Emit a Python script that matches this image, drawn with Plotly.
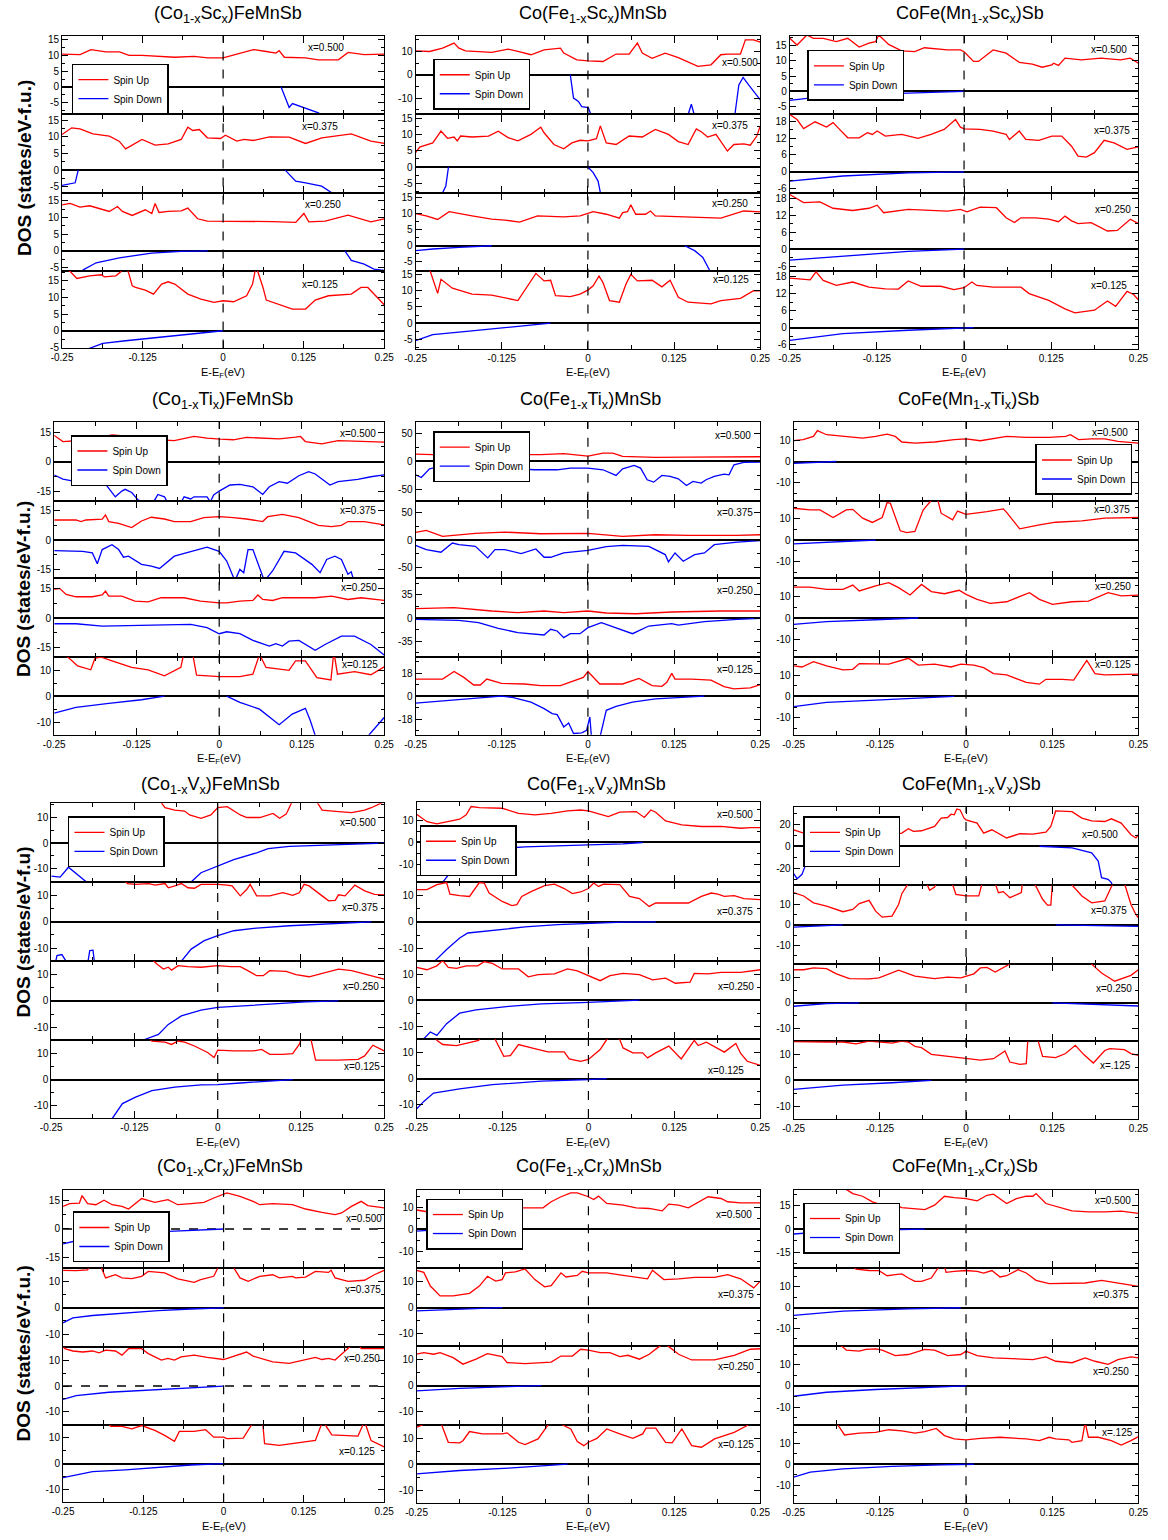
import plotly.graph_objects as go

# ---------------- data: (energy E-EF [eV], DOS [states/eV-f.u.]) ----------------
energy_ticks = [-0.25, -0.125, 0.0, 0.125, 0.25]
energy_tick_text = ["-0.25", "-0.125", "0", "0.125", "0.25"]
energy_minor = [-0.1875, -0.0625, 0.0625, 0.1875]
conc_labels = ["x=0.500", "x=0.375", "x=0.250", "x=0.125"]
conc_labels_short = ["x=0.500", "x=0.375", "x=0.250", "x=.125"]

# (Co1-xScx)FeMnSb
co_sc_500_up = [(-0.25,10.3),(-0.222,10.1),(-0.205,11.7),(-0.182,11.0),(-0.161,11.0),(-0.146,9.9),(-0.126,9.9),(-0.1,9.6),(-0.075,9.3),(-0.045,9.6),(-0.024,9.1),(0.0,9.1),(0.026,10.6),(0.047,11.7),(0.067,11.1),(0.082,10.6),(0.087,11.4),(0.095,9.3),(0.128,9.1),(0.148,8.5),(0.179,8.5),(0.194,10.8),(0.219,10.1),(0.25,10.3)]
co_sc_500_dn = [(0.09,0.0),(0.1025,-6.4),(0.1076,-5.2),(0.128,-6.6),(0.148,-8.1),(0.16,-10.0)]
co_sc_375_up = [(-0.25,10.7),(-0.235,12.7),(-0.2223,12.4),(-0.202,10.9),(-0.1766,10.2),(-0.1614,8.7),(-0.1513,6.4),(-0.1259,9.2),(-0.1056,7.5),(-0.0853,7.9),(-0.065,9.2),(-0.0548,12.9),(-0.0472,11.9),(-0.0371,12.2),(-0.0244,9.7),(-0.0041,9.5),(0.0036,10.5),(0.0213,8.7),(0.0325,9.2),(0.0467,8.9),(0.0721,10.0),(0.1025,9.9),(0.1279,8.0),(0.1533,9.7),(0.199,10.9),(0.2294,8.7),(0.25,8.0)]
co_sc_375_dn = [(-0.25,-4.6),(-0.2297,-3.8),(-0.2249,0.0),None,(0.0964,0.0),(0.1127,-3.3),(0.128,-3.8),(0.153,-4.8),(0.1685,-6.8),(0.175,-8.0)]
co_sc_250_up = [(-0.25,13.75),(-0.2376,14.2),(-0.2223,13.1),(-0.2071,13.5),(-0.1766,11.8),(-0.164,13.3),(-0.1563,11.8),(-0.1411,10.6),(-0.1208,12.3),(-0.1107,11.2),(-0.1056,14.2),(-0.0995,11.5),(-0.0853,11.8),(-0.065,12.0),(-0.0548,12.8),(-0.0396,9.6),(-0.0244,8.9),(0.001,8.9),(0.0365,8.75),(0.0772,8.75),(0.1127,8.5),(0.1254,11.2),(0.133,8.7),(0.1584,8.9),(0.1939,10.7),(0.2294,8.7),(0.25,9.6)]
co_sc_250_dn = [(-0.218,-5.8),(-0.197,-3.6),(-0.161,-2.1),(-0.111,-0.7),(-0.065,-0.2),(-0.024,0.0),None,(0.189,0.0),(0.199,-2.9),(0.219,-4.0),(0.234,-5.5),(0.25,-5.9)]
co_sc_125_up = [(-0.25,19.0),(-0.2373,17.8),(-0.227,15.7),(-0.2071,16.5),(-0.1893,16.8),(-0.1843,16.2),(-0.1665,16.5),(-0.1589,17.7),(-0.1538,20.0),(-0.1472,17.7),(-0.1411,13.5),(-0.136,13.0),(-0.1208,12.2),(-0.1081,11.0),(-0.0954,14.0),(-0.0853,14.7),(-0.0751,14.0),(-0.0548,11.0),(-0.0345,9.5),(-0.0142,8.5),(0.0,9.0),(0.0162,8.7),(0.0365,10.5),(0.0457,14.0),(0.0492,17.5),(0.05,20.0),(0.0543,17.5),(0.0619,13.0),(0.067,9.2),(0.0772,8.5),(0.1076,6.5),(0.128,6.5),(0.143,9.2),(0.1635,10.5),(0.199,11.0),(0.214,13.0),(0.2246,13.0),(0.25,7.8)]
co_sc_125_dn = [(-0.2147,-5.8),(-0.1868,-3.8),(-0.1513,-3.0),(-0.1157,-2.3),(-0.0751,-1.5),(-0.0345,-0.7),(-0.0142,-0.2),(0.0,0.0)]

# Co(Fe1-xScx)MnSb
fe_sc_500_up = [(-0.25,10.3),(-0.2298,10.0),(-0.2108,11.4),(-0.1942,13.6),(-0.1871,11.4),(-0.1776,10.3),(-0.1396,9.6),(-0.1159,11.0),(-0.1016,10.0),(-0.0826,8.6),(-0.0636,10.7),(-0.0399,11.4),(-0.0351,9.3),(-0.0161,6.4),(0.0,6.0),(0.0218,5.7),(0.0408,8.9),(0.0598,8.9),(0.0717,13.6),(0.0788,9.3),(0.0931,7.1),(0.1121,9.3),(0.1311,7.4),(0.1595,3.6),(0.1785,4.3),(0.1928,8.6),(0.2023,8.9),(0.2213,8.9),(0.2284,15.0),(0.2403,15.0),(0.25,14.0)]
fe_sc_500_dn = [(-0.0256,0.0),(-0.0209,-10.0),(-0.0138,-11.4),(-0.009,-13.6),(0.0005,-14.0),(0.0057,-17.5),(0.008,-20.0),None,(0.143,-20.0),(0.1453,-17.0),(0.15,-12.6),(0.1548,-17.0),(0.157,-20.0),None,(0.211,-20.0),(0.2132,-17.0),(0.2189,-4.3),(0.2251,-1.1),(0.2331,-4.3),(0.2403,-7.1),(0.25,-10.7)]
fe_sc_375_up = [(-0.25,4.4),(-0.2441,6.1),(-0.2251,7.4),(-0.2132,11.0),(-0.2037,8.8),(-0.1942,9.2),(-0.1895,8.0),(-0.1847,9.5),(-0.1681,9.2),(-0.1443,9.5),(-0.1301,11.0),(-0.1159,9.0),(-0.1016,8.0),(-0.0826,10.0),(-0.0731,11.5),(-0.0684,12.2),(-0.0636,10.5),(-0.0494,6.9),(-0.0351,5.6),(-0.0233,7.4),(-0.0114,8.2),(0.0,8.0),(0.0123,8.7),(0.018,12.6),(0.0266,7.4),(0.0408,6.9),(0.0598,9.5),(0.0788,9.2),(0.0978,11.5),(0.1168,10.0),(0.1311,7.8),(0.1453,6.9),(0.1572,11.7),(0.1643,10.8),(0.1738,9.2),(0.1857,10.0),(0.2023,4.9),(0.2118,6.9),(0.226,7.1),(0.2355,6.7),(0.245,9.5),(0.25,12.6)]
fe_sc_375_dn = [(-0.2108,-7.9),(-0.2061,-5.8),(-0.2023,0.0),None,(0.0,0.0),(0.0076,-1.7),(0.0147,-4.3),(0.018,-7.9),(0.02,-10.0)]
fe_sc_250_up = [(-0.25,9.9),(-0.2346,9.2),(-0.218,8.1),(-0.2013,10.5),(-0.1681,9.2),(-0.1396,8.2),(-0.1206,7.9),(-0.0992,7.3),(-0.0731,9.2),(-0.0351,8.9),(-0.0114,9.2),(0.0076,10.5),(0.0266,9.7),(0.0456,8.5),(0.0503,10.2),(0.0575,10.5),(0.0622,12.6),(0.0693,9.7),(0.0836,9.7),(0.0907,10.7),(0.0978,9.2),(0.1453,8.9),(0.1785,8.7),(0.1928,8.5),(0.226,10.7),(0.25,10.4)]
fe_sc_250_dn = [(-0.25,-1.5),(-0.2251,-1.0),(-0.1871,-0.5),(-0.1396,0.0),None,(0.1405,0.0),(0.1548,-1.5),(0.1667,-3.6),(0.1762,-7.7),(0.18,-9.0)]
fe_sc_125_up = [(-0.25,20.0),(-0.2298,16.5),(-0.218,9.1),(-0.2132,13.4),(-0.1966,10.7),(-0.1681,8.9),(-0.1396,8.6),(-0.1016,6.9),(-0.0755,15.2),(-0.0636,12.9),(-0.0541,13.1),(-0.047,8.4),(-0.0256,8.1),(-0.0114,8.9),(0.0,10.1),(0.0076,11.4),(0.0161,14.4),(0.0218,12.4),(0.0313,6.9),(0.0456,6.4),(0.0551,11.9),(0.0622,14.9),(0.0717,12.9),(0.0931,13.1),(0.1073,11.1),(0.1192,13.1),(0.1311,7.9),(0.1453,6.4),(0.1785,5.9),(0.1928,6.9),(0.2213,7.6),(0.2403,9.9),(0.25,9.9)]
fe_sc_125_dn = [(-0.25,-5.3),(-0.2251,-3.5),(-0.1871,-2.7),(-0.1396,-1.7),(-0.0921,-0.7),(-0.0541,0.0)]

# CoFe(Mn1-xScx)Sb
mn_sc_500_up = [(-0.25,17.4),(-0.2395,15.2),(-0.2254,18.5),(-0.216,17.4),(-0.202,17.4),(-0.1832,16.3),(-0.1668,17.4),(-0.1504,14.5),(-0.1364,15.8),(-0.127,16.3),(-0.1223,18.5),(-0.1082,15.4),(-0.0895,13.3),(-0.0708,13.0),(-0.0567,14.3),(-0.0426,14.1),(-0.0239,13.6),(-0.0052,13.6),(0.0,13.0),(0.0136,9.8),(0.0206,9.8),(0.0417,13.6),(0.0604,12.5),(0.0792,9.5),(0.0979,8.9),(0.112,7.9),(0.1261,8.7),(0.1284,9.2),(0.1354,8.5),(0.1448,10.9),(0.1682,10.3),(0.1964,10.9),(0.2245,10.3),(0.2385,10.9),(0.25,9.2)]
mn_sc_500_dn = [(-0.25,-3.0),(-0.1972,-1.6),(-0.127,-0.9),(-0.0567,-0.3),(0.0,0.0)]
mn_sc_375_up = [(-0.25,20.4),(-0.2395,18.6),(-0.2301,15.4),(-0.2137,17.8),(-0.1973,15.9),(-0.1879,17.5),(-0.1785,15.1),(-0.1668,12.1),(-0.1504,12.1),(-0.1387,13.9),(-0.1317,13.3),(-0.1246,14.5),(-0.1129,12.7),(-0.0895,13.3),(-0.0661,11.9),(-0.0473,13.3),(-0.0286,15.1),(-0.0122,18.6),(-0.0052,15.9),(0.0,15.3),(0.023,15.1),(0.0417,14.5),(0.0604,13.3),(0.0651,11.5),(0.0792,14.5),(0.0886,11.5),(0.1073,11.2),(0.1261,12.7),(0.1401,12.7),(0.1542,9.1),(0.1635,5.6),(0.1753,5.2),(0.187,6.8),(0.201,11.2),(0.2151,10.3),(0.2338,8.0),(0.25,8.9)]
mn_sc_375_dn = [(-0.25,-3.3),(-0.1738,-1.5),(-0.0801,-0.4),(0.0,0.0)]
mn_sc_250_up = [(-0.25,19.5),(-0.2301,16.6),(-0.2067,16.9),(-0.1879,14.6),(-0.1598,13.8),(-0.1364,14.6),(-0.1246,15.7),(-0.1153,13.0),(-0.0801,14.2),(-0.0473,13.8),(-0.0239,13.6),(-0.0052,14.2),(0.0042,13.3),(0.023,15.0),(0.0464,14.8),(0.0604,11.2),(0.0722,9.5),(0.0815,11.2),(0.1026,11.2),(0.1214,10.7),(0.1354,9.8),(0.1448,11.8),(0.1542,10.1),(0.1635,9.1),(0.1823,9.5),(0.2057,6.5),(0.2198,6.7),(0.2385,10.7),(0.25,9.1)]
mn_sc_250_dn = [(-0.25,-3.9),(-0.1738,-2.4),(-0.0801,-0.8),(0.0,0.0)]
mn_sc_125_up = [(-0.25,17.6),(-0.2395,17.4),(-0.2207,17.0),(-0.2123,19.8),(-0.202,16.8),(-0.1832,15.0),(-0.1598,16.2),(-0.1364,14.4),(-0.1129,13.8),(-0.0942,13.7),(-0.0801,16.6),(-0.0614,14.7),(-0.0333,14.7),(-0.0145,13.5),(0.0,14.2),(0.0112,16.2),(0.0183,15.0),(0.0417,14.4),(0.0815,14.4),(0.0933,12.1),(0.1214,9.7),(0.1448,6.7),(0.1589,5.3),(0.187,6.2),(0.2057,9.5),(0.2174,7.6),(0.2338,12.9),(0.2432,11.8),(0.25,9.9)]
mn_sc_125_dn = [(-0.25,-4.5),(-0.1738,-2.1),(-0.0801,-0.9),(0.0,-0.2),(0.0136,0.0)]

# (Co1-xTix)FeMnSb
co_ti_500_up = [(-0.25,13.3),(-0.2368,10.2),(-0.217,10.6),(-0.1872,11.6),(-0.1624,13.6),(-0.1425,13.1),(-0.1177,12.3),(-0.0929,11.1),(-0.068,10.7),(-0.0382,12.8),(-0.0184,11.9),(0.0015,11.4),(0.0214,11.1),(0.0412,12.3),(0.071,11.9),(0.0909,11.6),(0.1157,12.4),(0.1231,12.8),(0.1306,10.2),(0.1554,9.0),(0.1802,10.7),(0.21,10.2),(0.25,9.9)]
co_ti_500_dn = [(-0.25,-6.8),(-0.2368,-8.9),(-0.217,-10.2),(-0.2021,-9.7),(-0.1723,-11.4),(-0.1574,-17.9),(-0.1475,-15.0),(-0.1425,-14.1),(-0.1326,-15.7),(-0.1226,-19.6),(-0.1077,-21.0),(-0.0978,-19.6),(-0.0929,-16.7),(-0.0829,-17.9),(-0.078,-21.0),(-0.0581,-21.0),(-0.0532,-17.9),(-0.0432,-19.0),(-0.0382,-17.9),(-0.0184,-17.9),(-0.0134,-20.5),(-0.0084,-17.0),(0.0,-15.0),(0.0164,-11.9),(0.0313,-11.6),(0.0511,-12.8),(0.066,-16.7),(0.076,-12.8),(0.0909,-10.2),(0.1033,-11.0),(0.1207,-7.2),(0.1356,-5.1),(0.1455,-6.3),(0.1678,-11.9),(0.1802,-10.2),(0.21,-9.0),(0.2299,-7.7),(0.25,-6.8)]
co_ti_375_up = [(-0.25,10.3),(-0.217,10.3),(-0.2095,9.5),(-0.2021,10.3),(-0.1773,10.7),(-0.1723,12.9),(-0.1673,9.5),(-0.1524,8.6),(-0.1326,6.4),(-0.1177,9.8),(-0.1028,11.7),(-0.0829,10.8),(-0.068,9.5),(-0.0432,9.5),(-0.0233,11.5),(0.0,12.0),(0.0214,11.5),(0.0412,10.8),(0.066,9.5),(0.0735,12.0),(0.0958,13.2),(0.1207,11.5),(0.1504,7.5),(0.1703,6.9),(0.1852,7.5),(0.1951,9.5),(0.22,9.5),(0.25,7.8)]
co_ti_375_dn = [(-0.25,-5.4),(-0.207,-5.8),(-0.1922,-6.6),(-0.1847,-12.2),(-0.1773,-4.9),(-0.1624,-2.4),(-0.1524,-4.9),(-0.145,-8.8),(-0.1375,-8.3),(-0.1177,-12.5),(-0.1028,-13.4),(-0.0904,-14.6),(-0.068,-8.3),(-0.0432,-5.8),(-0.0184,-3.7),(0.0,-5.8),(0.0114,-10.8),(0.0238,-21.0),(0.0313,-15.1),(0.0372,-16.8),(0.0437,-4.9),(0.0511,-4.9),(0.0611,-13.4),(0.0685,-21.0),(0.0809,-15.9),(0.0983,-5.8),(0.1157,-6.6),(0.1405,-12.5),(0.1529,-16.8),(0.1629,-10.0),(0.1753,-8.3),(0.1852,-10.0),(0.1951,-17.6),(0.2001,-16.3),(0.2041,-21.0)]
co_ti_250_up = [(-0.25,14.7),(-0.2418,15.2),(-0.2319,12.1),(-0.217,10.9),(-0.1922,10.9),(-0.1773,11.8),(-0.1723,13.8),(-0.1673,11.2),(-0.1475,11.2),(-0.1276,8.7),(-0.1077,8.3),(-0.0879,10.4),(-0.0531,10.4),(-0.0283,8.7),(0.0,7.8),(0.0114,7.8),(0.0313,8.7),(0.0511,9.0),(0.0586,11.8),(0.066,9.5),(0.0809,9.0),(0.0958,10.4),(0.1157,10.4),(0.1455,10.4),(0.1703,11.2),(0.1951,9.5),(0.215,10.4),(0.25,9.0)]
co_ti_250_dn = [(-0.25,-2.9),(-0.217,-2.9),(-0.1773,-4.1),(-0.1177,-3.6),(-0.0432,-3.2),(-0.0184,-4.9),(0.0,-8.0),(0.0114,-7.0),(0.0313,-8.0),(0.0511,-11.4),(0.076,-14.3),(0.0859,-13.1),(0.0958,-14.3),(0.1058,-11.8),(0.1207,-11.4),(0.1455,-16.5),(0.1604,-13.5),(0.1852,-9.2),(0.2051,-9.2),(0.2299,-13.5),(0.25,-18.9)]
co_ti_125_up = [(-0.25,17.0),(-0.2294,15.0),(-0.2145,11.6),(-0.1946,10.1),(-0.1882,14.5),(-0.1797,15.0),(-0.1624,13.5),(-0.1326,11.0),(-0.1077,10.1),(-0.0829,7.8),(-0.0581,11.0),(-0.0531,17.0),(-0.0407,17.0),(-0.0343,8.0),(0.0,7.5),(0.0313,7.5),(0.0511,8.4),(0.0611,16.0),(0.071,11.0),(0.1058,9.9),(0.1157,13.5),(0.1306,13.5),(0.148,7.1),(0.1693,6.2),(0.1738,17.0),(0.1792,8.4),(0.2051,9.4),(0.2299,8.2),(0.25,11.2)]
co_ti_125_dn = [(-0.25,-6.5),(-0.217,-4.3),(-0.1673,-2.8),(-0.1177,-1.4),(-0.0829,0.0),None,(0.0114,0.0),(0.0313,-2.4),(0.0611,-5.0),(0.0909,-11.0),(0.1107,-6.9),(0.1306,-4.7),(0.138,-9.4),(0.1455,-14.8),(0.148,-17.0),None,(0.224,-17.0),(0.2274,-14.8),(0.25,-8.2)]

# Co(Fe1-xTix)MnSb
fe_ti_500_up = [(-0.25,13.0),(-0.1871,10.7),(-0.1159,11.9),(-0.0684,11.9),(-0.0351,13.7),(0.0,9.5),(0.0218,14.9),(0.0361,14.9),(0.0503,8.9),(0.0978,7.1),(0.1453,7.7),(0.1928,8.3),(0.25,8.3)]
fe_ti_500_dn = [(-0.25,-23.8),(-0.2417,-28.6),(-0.2298,-13.1),(-0.2203,-10.7),(-0.2061,-29.8),(-0.1871,-22.6),(-0.1681,-22.6),(-0.1491,-29.8),(-0.1396,-28.0),(-0.1206,-19.0),(-0.1016,-13.1),(-0.0779,-14.9),(-0.0446,-14.9),(-0.0256,-11.9),(0.0,-11.9),(0.0218,-14.9),(0.0408,-25.0),(0.0503,-13.1),(0.067,-7.1),(0.0764,-11.9),(0.0859,-32.7),(0.0954,-36.9),(0.1073,-25.0),(0.1192,-26.8),(0.1311,-31.0),(0.1429,-42.9),(0.1524,-35.7),(0.1643,-38.7),(0.1714,-32.7),(0.1833,-26.8),(0.1975,-22.6),(0.2047,-23.8),(0.2118,-6.0),(0.226,-1.8),(0.25,-1.2)]
fe_ti_375_up = [(-0.25,13.7),(-0.2346,17.3),(-0.2108,6.5),(-0.1633,11.9),(-0.1206,14.3),(-0.0684,11.3),(0.0,11.9),(0.0503,6.5),(0.0978,9.5),(0.1453,8.3),(0.2165,8.3),(0.25,9.5)]
fe_ti_375_dn = [(-0.25,-9.5),(-0.2346,-17.3),(-0.2132,-22.0),(-0.1966,-5.4),(-0.1871,-8.3),(-0.1633,-11.3),(-0.1453,-32.1),(-0.1349,-17.3),(-0.1206,-17.3),(-0.0969,-24.4),(-0.0755,-16.1),(-0.0636,-31.0),(-0.0541,-31.0),(-0.0351,-23.2),(0.0,-18.5),(0.0266,-11.9),(0.0503,-9.5),(0.0883,-11.3),(0.1121,-26.2),(0.1168,-39.3),(0.1263,-23.2),(0.1382,-38.1),(0.1548,-26.2),(0.169,-23.2),(0.1833,-8.3),(0.2165,-3.6),(0.25,-1.2)]
fe_ti_250_up = [(-0.25,14.1),(-0.1942,15.6),(-0.1396,10.6),(-0.1016,8.1),(-0.0636,10.6),(-0.0351,8.1),(0.0,10.6),(0.0266,7.6),(0.0693,6.5),(0.1216,9.1),(0.1928,10.6),(0.25,10.6)]
fe_ti_250_dn = [(-0.25,-2.0),(-0.1871,-3.5),(-0.1586,-7.0),(-0.1301,-15.6),(-0.1016,-22.2),(-0.0636,-25.7),(-0.0541,-17.1),(-0.0446,-19.6),(-0.0351,-29.7),(-0.0256,-23.7),(-0.0114,-23.7),(0.0,-14.6),(0.0195,-7.0),(0.0408,-14.6),(0.0646,-23.7),(0.0883,-12.1),(0.1216,-8.6),(0.1311,-10.6),(0.169,-5.5),(0.2165,-2.0),(0.25,-0.5)]
fe_ti_125_up = [(-0.25,13.5),(-0.2108,13.5),(-0.1942,19.4),(-0.18,14.8),(-0.1657,8.8),(-0.1562,8.8),(-0.1467,13.5),(-0.1254,10.1),(-0.0921,9.6),(-0.0684,8.3),(-0.0399,8.3),(-0.0209,12.2),(-0.0066,14.8),(0.0,19.4),(0.0076,14.8),(0.0171,9.6),(0.0503,9.6),(0.0741,14.0),(0.0931,8.3),(0.1073,7.8),(0.1144,10.9),(0.1216,17.9),(0.1263,13.5),(0.15,13.5),(0.1785,12.7),(0.1975,7.5),(0.2118,5.7),(0.2355,6.5),(0.25,9.1)]
fe_ti_125_dn = [(-0.25,-5.4),(-0.1871,-2.8),(-0.1538,-1.3),(-0.1254,0.0),(-0.1111,-0.8),(-0.0826,-4.7),(-0.0636,-9.8),(-0.0518,-13.7),(-0.0446,-14.5),(-0.0351,-24.1),(-0.028,-21.0),(-0.0209,-29.3),(-0.009,-28.8),(-0.0019,-26.7),(0.0028,-16.3),(0.0052,-33.0),None,(0.0171,-33.0),(0.0266,-11.1),(0.0408,-8.0),(0.0646,-4.7),(0.0978,-2.1),(0.1453,-0.8),(0.169,0.0)]

# CoFe(Mn1-xTix)Sb
mn_ti_500_up = [(-0.25,9.7),(-0.2363,10.2),(-0.2213,11.7),(-0.2156,14.4),(-0.2023,12.5),(-0.1785,11.7),(-0.15,10.9),(-0.1311,11.7),(-0.1144,12.8),(-0.1026,11.7),(-0.0931,9.1),(-0.0741,8.6),(-0.0456,9.1),(-0.0171,10.2),(0.0,10.6),(0.0209,9.7),(0.0399,10.6),(0.0589,11.7),(0.0874,11.3),(0.1206,11.3),(0.1444,11.7),(0.1515,12.5),(0.1633,10.2),(0.1823,10.6),(0.2013,10.6),(0.2203,9.4),(0.25,8.6)]
mn_ti_500_dn = [(-0.25,-0.9),(-0.226,-0.6),(-0.1975,-0.2),(-0.188,0.0)]
mn_ti_375_up = [(-0.25,14.8),(-0.226,14.0),(-0.2118,14.0),(-0.1928,10.5),(-0.1738,14.0),(-0.1643,14.3),(-0.15,10.2),(-0.1358,8.2),(-0.1216,10.5),(-0.1144,17.5),(-0.1097,17.1),(-0.0954,4.3),(-0.0859,3.5),(-0.0741,4.0),(-0.0622,14.0),(-0.0503,18.5),(-0.0408,18.5),(-0.0361,12.5),(-0.0195,9.4),(-0.0123,13.5),(0.0,12.0),(0.0304,13.2),(0.0541,14.5),(0.0589,12.9),(0.0779,5.2),(0.1064,7.1),(0.1301,8.3),(0.1681,8.9),(0.2013,10.2),(0.25,10.5)]
mn_ti_375_dn = [(-0.25,-1.8),(-0.2023,-0.9),(-0.1548,-0.3),(-0.1311,0.0)]
mn_ti_250_up = [(-0.25,14.3),(-0.226,14.3),(-0.2023,13.2),(-0.1785,13.2),(-0.1643,15.2),(-0.1548,12.5),(-0.1311,14.8),(-0.1121,16.3),(-0.0978,14.0),(-0.0812,10.6),(-0.0646,15.5),(-0.0503,12.2),(-0.0313,11.2),(-0.01,12.8),(0.0,10.9),(0.0161,8.6),(0.0351,6.8),(0.0589,7.5),(0.0921,11.7),(0.1064,8.6),(0.1254,6.3),(0.1538,7.5),(0.1776,7.8),(0.2061,11.7),(0.2251,10.2),(0.25,10.6)]
mn_ti_250_dn = [(-0.25,-2.9),(-0.2023,-1.7),(-0.1311,-0.8),(-0.0693,0.0)]
mn_ti_125_up = [(-0.25,14.4),(-0.2379,13.9),(-0.2213,16.4),(-0.2023,14.4),(-0.1785,12.5),(-0.1643,12.8),(-0.1548,15.5),(-0.1121,15.2),(-0.0836,18.0),(-0.0693,14.8),(-0.0456,15.2),(-0.0218,13.9),(-0.0076,15.2),(0.0114,14.8),(0.0256,13.6),(0.0399,10.8),(0.0589,10.2),(0.0874,6.6),(0.1064,5.8),(0.1159,8.1),(0.1396,8.1),(0.1562,7.7),(0.1752,17.0),(0.1871,10.8),(0.2013,10.2),(0.25,10.5)]
mn_ti_125_dn = [(-0.25,-4.8),(-0.2023,-2.8),(-0.1311,-1.7),(-0.0598,-0.8),(-0.0171,0.0)]

# (Co1-xVx)FeMnSb
co_v_500_up = [(-0.25,20.0),(-0.0885,17.0),(-0.0792,13.7),(-0.0644,12.8),(-0.0497,12.4),(-0.0423,10.9),(-0.0251,9.6),(-0.0103,10.9),(0.0,13.7),(0.0143,14.1),(0.0339,10.9),(0.0438,9.9),(0.0634,9.9),(0.0831,11.5),(0.0929,9.6),(0.1028,11.2),(0.1126,16.5),(0.13,20.0),(0.1475,16.5),(0.1568,12.8),(0.1814,12.2),(0.2011,11.8),(0.2207,12.8),(0.2306,13.7),(0.25,16.0)]
co_v_500_dn = [(-0.25,-12.8),(-0.2367,-13.2),(-0.2242,-9.4),(-0.2119,-11.9),(-0.1972,-15.1),(-0.19,-18.0),None,(-0.045,-18.0),(-0.0398,-15.1),(-0.0251,-11.5),(0.0,-9.0),(0.0241,-6.4),(0.0585,-3.8),(0.0757,-2.2),(0.1077,-1.3),(0.1568,-0.8),(0.2109,-0.4),(0.25,0.0)]
co_v_375_up = [(-0.25,18.0),(-0.14,16.0),(-0.1357,14.6),(-0.1234,14.3),(-0.1037,14.6),(-0.0939,14.0),(-0.0792,14.6),(-0.0742,13.0),(-0.0644,13.7),(-0.0546,14.6),(-0.0447,13.0),(-0.0349,12.8),(-0.0251,14.3),(-0.0152,14.3),(0.0,14.3),(0.0143,14.0),(0.0216,13.7),(0.0339,9.9),(0.0438,12.4),(0.0487,14.3),(0.0585,9.9),(0.0782,9.9),(0.0978,11.1),(0.1126,10.1),(0.1224,11.1),(0.1298,14.3),(0.1372,13.7),(0.1568,9.9),(0.1667,8.0),(0.1765,8.2),(0.1814,10.3),(0.1912,9.9),(0.206,14.0),(0.2207,11.8),(0.2355,10.5),(0.25,10.3)]
co_v_375_dn = [(-0.245,-17.0),(-0.2414,-12.9),(-0.234,-12.5),(-0.2266,-15.5),None,(-0.196,-17.0),(-0.1922,-11.0),(-0.1873,-10.8),(-0.1849,-16.0),None,(-0.0546,-15.0),(-0.0398,-10.4),(-0.0202,-7.2),(0.0,-5.3),(0.0241,-3.4),(0.0585,-2.4),(0.1077,-1.5),(0.1568,-0.9),(0.206,-0.3),(0.2306,0.0)]
co_v_250_up = [(-0.25,18.0),(-0.1,16.0),(-0.0914,13.9),(-0.0816,12.0),(-0.0742,12.7),(-0.0693,11.6),(-0.0595,13.3),(-0.0447,12.9),(-0.0251,12.7),(0.0,13.3),(0.0192,12.9),(0.0339,12.9),(0.0438,11.6),(0.0585,9.5),(0.0683,9.5),(0.0782,11.4),(0.1028,11.1),(0.1175,9.9),(0.1372,9.1),(0.1568,10.4),(0.1814,12.0),(0.2011,11.4),(0.2207,10.1),(0.25,8.2)]
co_v_250_dn = [(-0.115,-17.0),(-0.1096,-14.6),(-0.089,-12.7),(-0.0742,-8.9),(-0.0546,-5.7),(-0.0251,-3.5),(0.0,-2.5),(0.0339,-1.9),(0.0831,-1.0),(0.1323,-0.4),(0.1814,0.0)]
co_v_125_up = [(-0.25,18.0),(-0.105,16.0),(-0.0988,14.8),(-0.0792,14.4),(-0.0693,13.5),(-0.0595,14.8),(-0.0497,14.4),(-0.0349,12.9),(-0.0152,10.4),(-0.0054,8.5),(0.0,11.3),(0.0241,11.0),(0.0536,11.0),(0.0659,11.6),(0.0782,9.7),(0.0978,9.7),(0.1126,10.0),(0.1224,13.5),(0.1263,16.0),(0.133,20.0),(0.1396,16.0),(0.147,7.5),(0.1814,7.5),(0.2109,7.8),(0.2207,9.1),(0.233,13.2),(0.25,11.0)]
co_v_125_dn = [(-0.162,-17.0),(-0.1578,-14.7),(-0.1431,-9.2),(-0.1234,-6.7),(-0.0988,-4.2),(-0.0644,-2.9),(-0.0251,-2.0),(0.0,-1.9),(0.0339,-1.3),(0.0831,-0.4),(0.1126,0.0)]

# Co(Fe1-xVx)MnSb
fe_v_500_up = [(-0.25,12.9),(-0.2348,9.5),(-0.2205,8.5),(-0.2063,9.5),(-0.1873,10.6),(-0.1778,12.6),(-0.1706,16.4),(-0.1587,15.9),(-0.1397,15.6),(-0.1255,15.6),(-0.1017,13.3),(-0.0779,12.6),(-0.0542,13.3),(-0.0304,14.4),(-0.0114,14.8),(0.0,14.4),(0.0124,13.3),(0.029,11.8),(0.0456,13.8),(0.0694,14.1),(0.0813,11.4),(0.0908,14.8),(0.0979,13.8),(0.1122,9.8),(0.1359,8.0),(0.1644,7.3),(0.193,7.3),(0.2215,6.5),(0.2357,6.8),(0.25,6.8)]
fe_v_500_dn = [(-0.215,-19.0),(-0.211,-17.7),(-0.2015,-13.9),(-0.1873,-9.4),(-0.1683,-5.6),(-0.1397,-3.0),(-0.0922,-2.0),(-0.0447,-1.4),(0.0,-1.1),(0.0504,-0.6),(0.0789,0.0)]
fe_v_375_up = [(-0.25,12.3),(-0.2348,12.3),(-0.2205,14.2),(-0.2063,15.0),(-0.2015,10.6),(-0.1873,10.0),(-0.173,9.7),(-0.1587,15.0),(-0.1516,14.8),(-0.1445,11.0),(-0.1255,7.8),(-0.1112,6.2),(-0.1041,6.6),(-0.097,9.7),(-0.0827,11.6),(-0.0637,13.8),(-0.0494,14.4),(-0.0352,12.7),(-0.0233,10.8),(-0.0114,11.4),(0.0,12.7),(0.0076,14.8),(0.0147,13.5),(0.0219,14.4),(0.0456,14.2),(0.0599,9.7),(0.0741,8.9),(0.0884,5.9),(0.0979,7.2),(0.1217,7.2),(0.1454,7.2),(0.1644,9.7),(0.1787,11.0),(0.1882,10.6),(0.1977,9.7),(0.212,10.0),(0.2262,8.9),(0.25,8.5)]
fe_v_375_dn = [(-0.23,-17.0),(-0.2229,-14.7),(-0.2063,-10.5),(-0.1873,-6.1),(-0.1754,-4.2),(-0.1397,-3.2),(-0.0922,-1.9),(-0.0447,-1.0),(0.0,-0.6),(0.0504,-0.1),(0.0979,0.0)]
fe_v_250_up = [(-0.25,12.6),(-0.2348,11.7),(-0.2205,13.2),(-0.212,15.2),(-0.2039,12.6),(-0.192,12.2),(-0.1778,13.2),(-0.1611,13.2),(-0.1516,14.8),(-0.1397,14.1),(-0.1255,12.0),(-0.1017,12.0),(-0.0875,9.0),(-0.0732,9.8),(-0.0494,10.1),(-0.0304,12.0),(-0.0162,11.3),(0.0,9.4),(0.0171,7.5),(0.0314,9.4),(0.0504,10.3),(0.0741,9.8),(0.0932,7.8),(0.1122,8.5),(0.1264,6.5),(0.1478,6.9),(0.154,10.3),(0.174,10.1),(0.193,10.7),(0.2215,10.7),(0.25,11.7)]
fe_v_250_dn = [(-0.242,-15.5),(-0.23,-12.2),(-0.2205,-13.5),(-0.2063,-9.0),(-0.1873,-5.0),(-0.1635,-3.7),(-0.116,-2.4),(-0.0684,-1.4),(0.0,-0.8),(0.0741,0.0)]
fe_v_125_up = [(-0.25,18.0),(-0.222,15.5),(-0.2205,14.6),(-0.212,13.0),(-0.192,12.6),(-0.1778,13.6),(-0.1597,14.6),(-0.155,17.0),(-0.14,17.0),(-0.135,14.6),(-0.1231,8.5),(-0.1136,8.8),(-0.1017,13.0),(-0.0827,11.7),(-0.0589,10.2),(-0.0352,10.2),(-0.028,7.5),(-0.0114,6.6),(0.0,7.3),(0.0171,11.1),(0.0266,14.9),(0.036,17.0),(0.0456,14.9),(0.0504,11.7),(0.0646,9.8),(0.0789,9.8),(0.086,7.9),(0.0979,9.8),(0.1169,12.4),(0.135,7.5),(0.154,14.6),(0.1597,12.6),(0.1716,13.9),(0.1977,10.1),(0.2144,13.4),(0.2215,9.6),(0.231,6.6),(0.25,5.0)]
fe_v_125_dn = [(-0.25,-11.6),(-0.2395,-8.7),(-0.2253,-5.5),(-0.1873,-3.9),(-0.1397,-2.3),(-0.0684,-1.0),(0.0,-0.4),(0.0266,0.0)]

# CoFe(Mn1-xVx)Sb
mn_v_500_up = [(-0.25,14.9),(-0.2355,11.9),(-0.2023,12.8),(-0.1785,11.0),(-0.1548,11.9),(-0.1311,10.4),(-0.1073,10.4),(-0.0931,11.9),(-0.0836,15.8),(-0.0764,13.4),(-0.0646,14.0),(-0.0456,17.9),(-0.0361,25.4),(-0.0266,26.0),(-0.0218,29.0),(-0.0171,28.4),(-0.0133,33.7),(-0.0085,32.8),(-0.0028,25.4),(0.0,23.9),(0.0161,20.9),(0.0209,15.8),(0.0256,11.9),(0.0375,14.9),(0.0494,10.4),(0.0589,7.5),(0.0779,11.3),(0.0969,11.0),(0.1159,12.8),(0.123,17.9),(0.1301,31.9),(0.1538,31.3),(0.1681,25.4),(0.1823,23.0),(0.2013,22.4),(0.2108,24.8),(0.2251,20.9),(0.2393,10.4),(0.2464,7.5),(0.25,10.4)]
mn_v_500_dn = [(-0.25,-24.8),(-0.245,-29.3),(-0.2379,-25.4),(-0.2308,-13.4),(-0.2213,-7.5),(-0.2023,-1.5),(-0.1785,-0.3),(-0.1548,0.0),None,(0.1064,0.0),(0.1538,-1.5),(0.1823,-6.0),(0.1918,-13.4),(0.1966,-28.4),(0.2061,-29.9),(0.2108,-32.8),(0.2132,-36.0),(0.215,-40.0)]
mn_v_375_up = [(-0.25,15.5),(-0.2355,13.9),(-0.2213,10.6),(-0.2023,9.0),(-0.1785,6.3),(-0.1643,7.4),(-0.1548,10.2),(-0.1406,11.8),(-0.1311,6.6),(-0.1216,3.7),(-0.1073,4.2),(-0.0978,9.8),(-0.0931,15.0),(-0.0836,20.0),(-0.06,22.0),(-0.0575,20.0),(-0.0527,16.6),(-0.0456,18.2),(-0.04,22.0),(-0.02,22.0),(-0.0195,19.5),(-0.0147,14.7),(0.0,13.9),(0.0185,13.9),(0.0233,20.0),(0.035,22.0),(0.0423,20.0),(0.047,15.5),(0.0541,16.0),(0.0636,13.1),(0.0802,15.5),(0.0817,20.0),(0.09,22.0),(0.0992,20.0),(0.1111,12.3),(0.1182,9.5),(0.123,9.5),(0.1254,20.0),(0.14,22.0),(0.1515,20.0),(0.1681,13.9),(0.1823,10.6),(0.2013,11.5),(0.2132,20.0),(0.22,22.0),(0.2298,20.0),(0.2393,9.8),(0.2464,5.0),(0.25,3.4)]
mn_v_375_dn = [(-0.25,-1.1),(-0.2165,-0.5),(-0.1785,0.0),None,(0.1301,0.0),(0.2013,-0.3),(0.25,-0.8)]
mn_v_250_up = [(-0.25,13.0),(-0.2355,13.0),(-0.2213,13.7),(-0.2023,13.4),(-0.188,11.4),(-0.169,9.5),(-0.1406,9.4),(-0.1263,9.8),(-0.0978,12.8),(-0.0741,10.5),(-0.0456,9.5),(-0.0266,10.1),(-0.0076,9.8),(0.0,10.5),(0.0114,11.4),(0.0209,13.7),(0.0304,13.9),(0.0423,12.1),(0.0541,13.7),(0.0636,15.2),(0.07,18.0),(0.175,18.0),(0.1823,15.2),(0.1966,11.7),(0.2156,8.5),(0.2393,10.8),(0.25,13.0)]
mn_v_250_dn = [(-0.25,-1.3),(-0.2023,-0.3),(-0.1548,0.0),None,(0.1254,0.0),(0.1776,-0.4),(0.2251,-0.8),(0.25,-1.2)]
mn_v_125_up = [(-0.25,15.2),(-0.2275,15.0),(-0.2023,15.0),(-0.1785,15.0),(-0.1595,14.3),(-0.1406,15.4),(-0.1216,15.0),(-0.1073,14.6),(-0.0931,15.4),(-0.0836,15.0),(-0.0741,13.3),(-0.0646,12.8),(-0.0503,10.2),(-0.0266,9.4),(0.0,8.5),(0.0209,7.9),(0.0399,8.5),(0.0565,11.5),(0.0636,7.2),(0.0779,6.3),(0.0874,6.6),(0.0897,16.0),(0.095,18.0),(0.104,16.0),(0.1111,9.4),(0.1301,8.9),(0.1444,10.5),(0.1586,13.7),(0.1705,10.2),(0.1847,6.8),(0.2013,11.7),(0.2085,12.4),(0.2298,12.0),(0.2393,10.5),(0.25,9.8)]
mn_v_125_dn = [(-0.25,-3.5),(-0.1785,-1.8),(-0.1073,-0.9),(-0.0503,0.0)]

# (Co1-xCrx)FeMnSb
co_cr_500_up = [(-0.25,12.1),(-0.2398,13.6),(-0.2245,13.9),(-0.2204,17.9),(-0.2117,13.6),(-0.199,13.0),(-0.1862,15.4),(-0.1735,13.0),(-0.1582,12.1),(-0.148,10.7),(-0.1276,16.3),(-0.1071,14.3),(-0.0867,15.7),(-0.0714,13.0),(-0.051,13.6),(-0.0306,14.3),(-0.0153,16.6),(0.0,18.4),(0.0051,19.3),(0.0255,17.5),(0.0459,14.8),(0.0561,13.0),(0.0765,13.6),(0.1071,13.0),(0.1276,10.7),(0.1531,8.9),(0.1735,7.7),(0.1837,8.6),(0.199,12.1),(0.2143,14.8),(0.2245,12.5),(0.25,11.3)]
co_cr_500_dn = [(-0.25,-8.0),(-0.2296,-6.3),(-0.1786,-3.0),(-0.1276,-1.8),(-0.0765,-1.1),(-0.0255,-0.5),(0.0,0.0)]
co_cr_375_up = [(-0.25,14.4),(-0.2296,14.3),(-0.2117,14.6),(-0.2092,16.0),(-0.2,17.0),(-0.1913,16.0),(-0.1837,11.5),(-0.1735,12.4),(-0.1684,12.7),(-0.1582,11.5),(-0.1429,11.2),(-0.1276,12.1),(-0.1173,14.0),(-0.0918,13.4),(-0.0714,11.1),(-0.0459,9.8),(-0.0357,10.8),(-0.0153,12.1),(-0.0077,16.0),(0.004,17.0),(0.0143,16.0),(0.0255,11.5),(0.0383,10.2),(0.0561,12.1),(0.0765,12.7),(0.0867,11.5),(0.1071,12.1),(0.1122,11.5),(0.1276,11.8),(0.1429,14.0),(0.1633,13.6),(0.1673,14.4),(0.1735,11.5),(0.1939,10.2),(0.2194,10.6),(0.2347,12.7),(0.25,14.4)]
co_cr_375_dn = [(-0.25,-5.7),(-0.2347,-3.8),(-0.2041,-2.9),(-0.1531,-1.9),(-0.102,-1.0),(-0.051,-0.4),(0.0,0.0)]
co_cr_250_up = [(-0.25,15.3),(-0.2474,14.5),(-0.2347,13.6),(-0.2194,13.2),(-0.2041,13.6),(-0.1939,12.9),(-0.1837,13.9),(-0.1684,13.6),(-0.1582,12.0),(-0.148,14.5),(-0.1276,14.5),(-0.1173,12.6),(-0.0969,10.1),(-0.0867,10.7),(-0.0765,10.1),(-0.0663,11.3),(-0.0459,12.0),(-0.0255,11.1),(0.0,10.3),(0.0153,11.6),(0.0357,13.2),(0.0459,11.6),(0.0765,9.4),(0.102,8.8),(0.1276,10.1),(0.1429,11.1),(0.1531,10.3),(0.1633,10.7),(0.1735,10.1),(0.1939,14.5),(0.2,16.0),(0.21,16.0),(0.2143,14.5),(0.25,14.5)]
co_cr_250_dn = [(-0.25,-5.2),(-0.2296,-3.7),(-0.1786,-2.4),(-0.1276,-1.7),(-0.0765,-1.0),(-0.0255,-0.4),(0.0,0.0)]
co_cr_125_up = [(-0.25,18.0),(-0.18,16.0),(-0.176,14.5),(-0.1582,14.5),(-0.1429,13.5),(-0.1276,14.8),(-0.1071,12.9),(-0.0918,11.0),(-0.0765,8.7),(-0.0689,12.5),(-0.0459,12.5),(-0.0281,13.2),(-0.0153,10.3),(0.0,10.3),(0.0051,9.7),(0.0306,9.9),(0.0434,15.0),(0.05,17.0),(0.0612,15.0),(0.0638,7.8),(0.0867,7.1),(0.1276,8.4),(0.1429,9.0),(0.152,15.0),(0.156,16.0),(0.1684,11.2),(0.2092,10.7),(0.2168,15.0),(0.22,16.0),(0.2296,9.0),(0.25,6.5)]
co_cr_125_dn = [(-0.25,-5.4),(-0.2041,-3.1),(-0.1531,-2.4),(-0.102,-1.5),(-0.051,-0.5),(0.0,0.0)]

# Co(Fe1-xCrx)MnSb
fe_cr_500_up = [(-0.25,8.9),(-0.2348,8.1),(-0.211,8.1),(-0.1635,8.1),(-0.1231,8.5),(-0.1065,9.9),(-0.0827,9.9),(-0.0661,9.9),(-0.0542,12.7),(-0.0399,15.0),(-0.0257,16.8),(-0.0162,16.8),(0.0,15.0),(0.0076,13.7),(0.0147,15.3),(0.0266,11.9),(0.0504,11.1),(0.0694,9.9),(0.0884,9.6),(0.1074,8.5),(0.1169,11.6),(0.1312,11.1),(0.1454,9.9),(0.1644,13.4),(0.174,15.0),(0.193,14.2),(0.2025,12.7),(0.2215,12.2),(0.25,12.2)]
fe_cr_500_dn = [(-0.25,-0.8),(-0.2348,-0.5),(-0.211,0.0)]
fe_cr_375_up = [(-0.25,14.4),(-0.2395,13.6),(-0.23,8.3),(-0.2158,4.5),(-0.1968,4.5),(-0.173,5.5),(-0.1587,8.3),(-0.1469,12.1),(-0.135,10.2),(-0.1255,10.8),(-0.1207,13.4),(-0.1065,13.8),(-0.0922,14.9),(-0.0779,10.8),(-0.0637,8.0),(-0.0542,8.5),(-0.0399,13.4),(-0.0328,11.8),(-0.0162,12.4),(-0.009,14.0),(0.0,13.4),(0.0266,13.4),(0.0504,12.4),(0.0694,11.8),(0.086,11.1),(0.0932,14.4),(0.1098,10.8),(0.1312,11.1),(0.1549,11.7),(0.1835,11.7),(0.2025,12.7),(0.2215,11.1),(0.2405,7.6),(0.25,10.2)]
fe_cr_375_dn = [(-0.25,-1.3),(-0.1873,-0.6),(-0.1255,0.0)]
fe_cr_250_up = [(-0.25,12.0),(-0.2395,12.6),(-0.2253,12.0),(-0.2158,12.6),(-0.1968,10.7),(-0.1825,8.2),(-0.1635,10.1),(-0.1469,12.2),(-0.1255,11.1),(-0.1183,8.8),(-0.0922,8.4),(-0.0542,9.0),(-0.0399,11.3),(-0.0233,11.3),(-0.0114,13.9),(0.0,13.6),(0.0171,12.6),(0.0314,12.6),(0.0456,11.1),(0.0575,11.6),(0.0741,10.1),(0.0884,12.0),(0.1027,14.9),(0.11,16.0),(0.1169,14.9),(0.1312,12.0),(0.1502,9.8),(0.1835,9.8),(0.212,11.6),(0.2357,13.9),(0.25,14.1)]
fe_cr_250_dn = [(-0.25,-2.0),(-0.1873,-1.1),(-0.116,-0.4),(-0.0684,0.0)]
fe_cr_125_up = [(-0.25,14.1),(-0.2419,15.0),(-0.235,17.0),(-0.22,17.0),(-0.2134,15.0),(-0.2039,8.4),(-0.1873,8.2),(-0.1825,9.0),(-0.173,12.5),(-0.154,11.6),(-0.1255,11.6),(-0.1183,12.0),(-0.1017,8.4),(-0.0922,7.5),(-0.0732,9.7),(-0.0589,15.0),(-0.048,17.0),(-0.0375,15.0),(-0.0257,13.5),(-0.0162,8.7),(-0.0067,7.1),(0.0,8.4),(0.0124,9.9),(0.0266,13.5),(0.0456,11.6),(0.0646,9.9),(0.0789,11.6),(0.0837,13.8),(0.0979,13.8),(0.1122,8.4),(0.1217,8.2),(0.1359,13.5),(0.1502,7.1),(0.1644,6.5),(0.1835,9.7),(0.212,12.2),(0.231,14.8),(0.24,17.0),(0.25,17.0)]
fe_cr_125_dn = [(-0.25,-3.7),(-0.1873,-2.4),(-0.116,-1.5),(-0.0684,-0.8),(-0.0304,0.0)]

# CoFe(Mn1-xCrx)Sb
mn_cr_500_up = [(-0.25,30.0),(-0.18,27.0),(-0.1714,25.0),(-0.1643,22.9),(-0.15,21.2),(-0.1358,17.6),(-0.1216,15.4),(-0.1073,16.1),(-0.0931,13.9),(-0.0741,13.3),(-0.0598,12.6),(-0.0456,15.4),(-0.0313,21.2),(-0.0171,20.3),(0.0,19.7),(0.0161,18.2),(0.0304,21.8),(0.0399,22.5),(0.0589,16.5),(0.0731,19.7),(0.0874,21.2),(0.0969,21.2),(0.1016,22.9),(0.1159,16.5),(0.1349,14.3),(0.1538,11.8),(0.1776,11.1),(0.2013,11.1),(0.2251,11.6),(0.25,10.1)]
mn_cr_500_dn = [(-0.25,-3.2),(-0.2023,-1.7),(-0.1311,-0.6),(-0.0598,0.0)]
mn_cr_375_up = [(-0.25,22.0),(-0.17,21.0),(-0.1595,18.6),(-0.1406,17.9),(-0.1263,17.8),(-0.1144,15.4),(-0.1026,15.9),(-0.0931,16.3),(-0.0836,14.3),(-0.0741,12.7),(-0.0646,12.7),(-0.0503,14.3),(-0.0408,19.0),(-0.035,21.0),(-0.0304,19.0),(-0.029,17.0),(-0.0171,17.5),(0.0,17.9),(0.0161,17.5),(0.0256,16.7),(0.0375,17.9),(0.0494,14.8),(0.0589,15.4),(0.0755,18.3),(0.0874,16.7),(0.1016,13.2),(0.1206,11.6),(0.1444,11.6),(0.1728,11.9),(0.1966,13.2),(0.2203,11.9),(0.2393,10.6),(0.25,10.3)]
mn_cr_375_dn = [(-0.25,-3.7),(-0.1785,-1.6),(-0.0836,-0.5),(-0.0076,0.0)]
mn_cr_250_up = [(-0.25,22.0),(-0.185,20.0),(-0.1785,18.4),(-0.1738,17.0),(-0.1548,16.5),(-0.1453,17.3),(-0.1311,17.6),(-0.1216,17.0),(-0.1026,14.4),(-0.0836,14.9),(-0.0598,17.3),(-0.0456,17.0),(-0.0266,14.4),(-0.0076,14.9),(0.0,16.5),(0.0161,14.4),(0.0399,13.3),(0.0684,12.9),(0.0969,12.5),(0.1159,13.8),(0.1301,11.7),(0.1538,11.0),(0.1728,13.3),(0.1871,11.7),(0.2061,10.2),(0.2203,12.5),(0.2393,13.8),(0.25,13.3)]
mn_cr_250_dn = [(-0.25,-4.9),(-0.2023,-3.0),(-0.1311,-1.7),(-0.0598,-0.8),(0.0,0.0)]
mn_cr_125_up = [(-0.25,22.0),(-0.19,20.0),(-0.1857,18.7),(-0.1762,14.0),(-0.1548,14.9),(-0.1311,15.2),(-0.1121,16.5),(-0.0931,16.0),(-0.0741,14.9),(-0.0598,15.6),(-0.0432,17.1),(-0.0313,13.7),(-0.0171,12.1),(0.0,11.7),(0.0209,12.4),(0.0494,12.9),(0.0874,12.1),(0.1064,11.3),(0.1206,12.9),(0.1301,12.1),(0.1491,11.7),(0.1538,10.5),(0.1681,11.3),(0.1728,20.0),(0.1776,12.9),(0.1918,12.9),(0.2108,11.3),(0.2251,9.2),(0.2393,11.3),(0.25,13.2)]
mn_cr_125_dn = [(-0.25,-6.2),(-0.226,-3.8),(-0.1785,-2.2),(-0.1073,-1.0),(-0.0361,-0.3),(0.0114,0.0)]

# panel titles
titles = [
    "(Co<sub>1-x</sub>Sc<sub>x</sub>)FeMnSb", "Co(Fe<sub>1-x</sub>Sc<sub>x</sub>)MnSb", "CoFe(Mn<sub>1-x</sub>Sc<sub>x</sub>)Sb",
    "(Co<sub>1-x</sub>Ti<sub>x</sub>)FeMnSb", "Co(Fe<sub>1-x</sub>Ti<sub>x</sub>)MnSb", "CoFe(Mn<sub>1-x</sub>Ti<sub>x</sub>)Sb",
    "(Co<sub>1-x</sub>V<sub>x</sub>)FeMnSb", "Co(Fe<sub>1-x</sub>V<sub>x</sub>)MnSb", "CoFe(Mn<sub>1-x</sub>V<sub>x</sub>)Sb",
    "(Co<sub>1-x</sub>Cr<sub>x</sub>)FeMnSb", "Co(Fe<sub>1-x</sub>Cr<sub>x</sub>)MnSb", "CoFe(Mn<sub>1-x</sub>Cr<sub>x</sub>)Sb",
]
dos_titles = ["DOS (states/eV-f.u.)", "DOS (states/eV-f.u.)", "DOS (states/eV-f.u)", "DOS (states/eV-f.u.)"]

# curves per group (top to bottom: x=0.500, 0.375, 0.250, 0.125)
curves = [
    [(co_sc_500_up, co_sc_500_dn), (co_sc_375_up, co_sc_375_dn), (co_sc_250_up, co_sc_250_dn), (co_sc_125_up, co_sc_125_dn)],
    [(fe_sc_500_up, fe_sc_500_dn), (fe_sc_375_up, fe_sc_375_dn), (fe_sc_250_up, fe_sc_250_dn), (fe_sc_125_up, fe_sc_125_dn)],
    [(mn_sc_500_up, mn_sc_500_dn), (mn_sc_375_up, mn_sc_375_dn), (mn_sc_250_up, mn_sc_250_dn), (mn_sc_125_up, mn_sc_125_dn)],
    [(co_ti_500_up, co_ti_500_dn), (co_ti_375_up, co_ti_375_dn), (co_ti_250_up, co_ti_250_dn), (co_ti_125_up, co_ti_125_dn)],
    [(fe_ti_500_up, fe_ti_500_dn), (fe_ti_375_up, fe_ti_375_dn), (fe_ti_250_up, fe_ti_250_dn), (fe_ti_125_up, fe_ti_125_dn)],
    [(mn_ti_500_up, mn_ti_500_dn), (mn_ti_375_up, mn_ti_375_dn), (mn_ti_250_up, mn_ti_250_dn), (mn_ti_125_up, mn_ti_125_dn)],
    [(co_v_500_up, co_v_500_dn), (co_v_375_up, co_v_375_dn), (co_v_250_up, co_v_250_dn), (co_v_125_up, co_v_125_dn)],
    [(fe_v_500_up, fe_v_500_dn), (fe_v_375_up, fe_v_375_dn), (fe_v_250_up, fe_v_250_dn), (fe_v_125_up, fe_v_125_dn)],
    [(mn_v_500_up, mn_v_500_dn), (mn_v_375_up, mn_v_375_dn), (mn_v_250_up, mn_v_250_dn), (mn_v_125_up, mn_v_125_dn)],
    [(co_cr_500_up, co_cr_500_dn), (co_cr_375_up, co_cr_375_dn), (co_cr_250_up, co_cr_250_dn), (co_cr_125_up, co_cr_125_dn)],
    [(fe_cr_500_up, fe_cr_500_dn), (fe_cr_375_up, fe_cr_375_dn), (fe_cr_250_up, fe_cr_250_dn), (fe_cr_125_up, fe_cr_125_dn)],
    [(mn_cr_500_up, mn_cr_500_dn), (mn_cr_375_up, mn_cr_375_dn), (mn_cr_250_up, mn_cr_250_dn), (mn_cr_125_up, mn_cr_125_dn)],
]

# y-axis ranges and major ticks for each sub-panel
y_ranges = [
    [(-8.6, 16), (-6.9, 16.7), (-6, 17.3), (-5.3, 18)],
    [(-17, 16.7), (-8, 16.1), (-7.7, 16.2), (-8, 16)],
    [(-7.6, 18.2), (-7.6, 20.4), (-7.7, 20), (-7.7, 20.2)],
    [(-19.9, 20.1), (-19.7, 20.2), (-19.9, 20.3), (-14.8, 15)],
    [(-70, 70), (-69, 70.8), (-59, 60), (-30.2, 30.8)],
    [(-18.3, 18.4), (-17.8, 18.3), (-18, 18.3), (-18, 18.6)],
    [(-15.1, 15.4), (-14.8, 15.2), (-14.9, 15.2), (-14.7, 15.1)],
    [(-18, 18.3), (-14.7, 15.2), (-15, 15.2), (-15, 15)],
    [(-35, 35.2), (-18.7, 19.2), (-15, 15.4), (-15, 15.3)],
    [(-21, 21.1), (-14.9, 15.2), (-14.9, 15.2), (-14.9, 15.2)],
    [(-17.9, 18.3), (-14.8, 15.2), (-14.9, 15.2), (-14.9, 15.2)],
    [(-25.3, 25.5), (-18.3, 19), (-18.3, 19), (-18.6, 19)],
]
T5 = [-5, 0, 5, 10, 15]
T6 = [-6, 0, 6, 12, 18]
T10 = [-10, 0, 10]
T15 = [-15, 0, 15]
y_ticks = [
    [T5, T5, T5, T5],
    [T10, T5, T5, T5],
    [T5, T6, T6, T6],
    [T15, T15, T15, T10],
    [[-50, 0, 50], [-50, 0, 50], [-35, 0, 35], [-18, 0, 18]],
    [T10, T10, T10, T10],
    [T10, T10, T10, T10],
    [T10, T10, T10, T10],
    [[-20, 0, 20], T10, T10, T10],
    [T15, T10, T10, T10],
    [T10, T10, T10, T10],
    [T15, T10, T10, T10],
]

# ---------------- layout geometry (pixels) ----------------
W, H = 1168, 1540
frames = [
    (52, 380, [34, 113, 192, 270, 348]),
    (412, 763, [34, 113, 192, 270, 349]),
    (793, 1148, [34, 113, 192, 270, 349]),
    (44, 380, [422, 501, 579, 658, 736]),
    (412, 763, [422, 501, 579, 658, 736]),
    (797, 1148, [422, 501, 579, 658, 736]),
    (41, 380, [805, 884, 963, 1043, 1121]),
    (413, 763, [804, 884, 963, 1042, 1121]),
    (797, 1148, [809, 887, 966, 1044, 1122]),
    (53, 380, [1193, 1272, 1351, 1429, 1507]),
    (413, 763, [1193, 1272, 1350, 1429, 1508]),
    (797, 1148, [1193, 1272, 1350, 1429, 1508]),
]
title_pos = [(221, 13), (593, 13), (977, 13), (215, 400), (590, 400), (975, 400),
             (203, 787), (596, 787), (978, 787), (223, 1171), (589, 1171), (971, 1171)]
label_pos = [
    [(321, 46), (315, 125), (318, 203), (315, 284)],
    [(742, 61), (732, 124), (732, 202), (733, 279)],
    [(1118, 48), (1121, 129), (1122, 208), (1118, 285)],
    [(353, 433), (353, 511), (354, 588), (355, 666)],
    [(735, 435), (737, 513), (737, 591), (737, 671)],
    [(1119, 432), (1121, 510), (1122, 587), (1122, 666)],
    [(353, 824), (355, 910), (356, 989), (357, 1069)],
    [(737, 816), (737, 914), (738, 989), (728, 1073)],
    [(1109, 836), (1118, 913), (1123, 991), (1125, 1068)],
    [(359, 1222), (358, 1293), (357, 1363), (352, 1456)],
    [(736, 1218), (738, 1298), (738, 1371), (738, 1449)],
    [(1122, 1204), (1120, 1298), (1120, 1376), (1127, 1437)],
]
# (x, y, anchor) of each legend box corner
legend_pos = [(62, 62, "left"), (430, 57, "left"), (811, 48, "left"), (61, 435, "left"),
              (430, 431, "left"), (1142, 444, "right"), (58, 818, "left"), (416, 827, "left"),
              (807, 818, "left"), (63, 1215, "left"), (423, 1202, "left"), (807, 1206, "left")]
xlabel_y = [373, 760, 1146, 1532]
dos_pos = [(13, 167), (13, 590), (13, 934), (13, 1358)]

FONT = "Liberation Sans Narrow, Liberation Sans, Arial, sans-serif"


def px(x):
    return x / W


def py(y):
    return 1 - y / H


def split(pairs):
    xs, ys = [], []
    for p in pairs:
        if p is None:
            xs.append(None)
            ys.append(None)
        else:
            xs.append(p[0])
            ys.append(p[1])
    return xs, ys


def fmt(v):
    return str(int(v)) if float(v).is_integer() else str(v)


fig = go.Figure()
layout = dict(
    width=W, height=H, margin=dict(l=0, r=0, t=0, b=0),
    paper_bgcolor="white", plot_bgcolor="white",
    font=dict(family=FONT, color="black", size=10),
    showlegend=True,
)
annotations = []
shapes = []

for g in range(12):
    left, right, edges = frames[g]
    legend_name = "legend" if g == 0 else f"legend{g + 1}"
    for s in range(4):
        k = g * 4 + s + 1
        xa = "x" if k == 1 else f"x{k}"
        ya = "y" if k == 1 else f"y{k}"
        top, bot = edges[s], edges[s + 1]
        lo, hi = y_ranges[g][s]
        ticks = y_ticks[g][s]
        step = ticks[1] - ticks[0]
        minor_vals = []
        v = ticks[0] - step * 4
        while v <= hi + 1e-9:
            mv = v + step / 2
            if lo < mv < hi:
                minor_vals.append(mv)
            v += step
        layout["xaxis" if k == 1 else f"xaxis{k}"] = dict(
            domain=[px(left), px(right)], anchor=ya, range=[-0.25, 0.25],
            tickmode="array", tickvals=energy_ticks, ticktext=energy_tick_text,
            showticklabels=(s == 3), ticks="inside", ticklen=7, tickwidth=1.2, tickcolor="black",
            showline=True, linecolor="black", linewidth=1.1, mirror="allticks",
            showgrid=False, zeroline=False, tickfont=dict(size=10, family=FONT),
            minor=dict(tickmode="array", tickvals=energy_minor, ticks="inside", ticklen=4,
                       tickwidth=1, tickcolor="black", showgrid=False),
        )
        dashed_zero = (g == 9 and s in (0, 2))
        layout["yaxis" if k == 1 else f"yaxis{k}"] = dict(
            domain=[py(bot), py(top)], anchor=xa, range=[lo, hi],
            tickmode="array", tickvals=ticks, ticktext=[fmt(t) for t in ticks],
            ticks="inside", ticklen=6, tickwidth=1.2, tickcolor="black",
            showline=True, linecolor="black", linewidth=1.1, mirror="allticks",
            showgrid=False, zeroline=not dashed_zero, zerolinecolor="black", zerolinewidth=2,
            tickfont=dict(size=10, family=FONT),
            minor=dict(tickmode="array", tickvals=minor_vals, ticks="inside", ticklen=3,
                       tickwidth=1, tickcolor="black", showgrid=False),
        )
        if dashed_zero:
            shapes.append(dict(type="line", xref=f"{xa} domain", yref=ya, x0=0, x1=1, y0=0, y1=0,
                               line=dict(color="black", width=1.5, dash="dash"), layer="below"))

        up, dn = curves[g][s]
        ux, uy = split(up)
        dx, dy = split(dn)
        fig.add_trace(go.Scatter(x=ux, y=uy, xaxis=xa, yaxis=ya, mode="lines", name="Spin Up",
                                 line=dict(color="#ff0000", width=1.3), legend=legend_name,
                                 showlegend=(s == 0), hoverinfo="skip"))
        fig.add_trace(go.Scatter(x=dx, y=dy, xaxis=xa, yaxis=ya, mode="lines", name="Spin Down",
                                 line=dict(color="#0000ff", width=1.3), legend=legend_name,
                                 showlegend=(s == 0), hoverinfo="skip"))

        lx, ly = label_pos[g][s]
        labels = conc_labels_short if g in (8, 11) else conc_labels
        annotations.append(dict(xref="paper", yref="paper", x=px(lx), y=py(ly), text=labels[s],
                                showarrow=False, font=dict(size=10, family=FONT), xanchor="center",
                                yanchor="middle"))

    # vertical E_F line through the whole group
    xa_top = "x" if g == 0 else f"x{g * 4 + 1}"
    if g == 6:
        shapes.append(dict(type="line", xref=xa_top, yref="paper", x0=0, x1=0,
                           y0=py(edges[1]), y1=py(edges[0]), line=dict(color="black", width=1.2)))
        shapes.append(dict(type="line", xref=xa_top, yref="paper", x0=0, x1=0,
                           y0=py(edges[4]), y1=py(edges[1]),
                           line=dict(color="black", width=1.2, dash="dash")))
    else:
        shapes.append(dict(type="line", xref=xa_top, yref="paper", x0=0, x1=0,
                           y0=py(edges[4]), y1=py(edges[0]),
                           line=dict(color="black", width=1.2, dash="dash")))

    # group title and x-axis title
    tx, ty = title_pos[g]
    annotations.append(dict(xref="paper", yref="paper", x=px(tx), y=py(ty), text=titles[g],
                            showarrow=False, font=dict(size=18, family=FONT),
                            xanchor="center", yanchor="middle"))
    annotations.append(dict(xref="paper", yref="paper", x=px((left + right) / 2), y=py(xlabel_y[g // 3]),
                            text="E-E<sub>F</sub>(eV)", showarrow=False, font=dict(size=11, family=FONT),
                            xanchor="center", yanchor="middle"))

    lgx, lgy, lanchor = legend_pos[g]
    layout[legend_name] = dict(x=px(lgx), y=py(lgy), xref="paper", yref="paper", xanchor=lanchor,
                               yanchor="top", bgcolor="white", bordercolor="black", borderwidth=1.5,
                               font=dict(size=10, family=FONT), itemwidth=30, tracegroupgap=0,
                               traceorder="normal")

for r in range(4):
    dxp, dyp = dos_pos[r]
    annotations.append(dict(xref="paper", yref="paper", x=px(dxp), y=py(dyp),
                            text="<b>" + dos_titles[r] + "</b>", textangle=-90, showarrow=False,
                            font=dict(size=19, family="Liberation Sans, Arial, sans-serif"),
                            xanchor="center", yanchor="middle"))

layout["annotations"] = annotations
layout["shapes"] = shapes
fig.update_layout(**layout)
fig.write_html("out.html", config={"displayModeBar": False})
